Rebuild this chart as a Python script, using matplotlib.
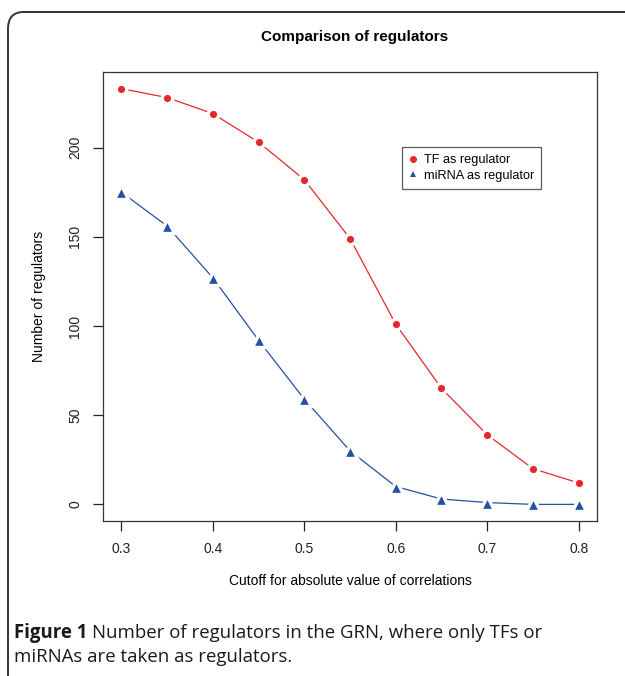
import matplotlib.pyplot as plt
from matplotlib.patches import FancyBboxPatch

cutoff = [0.3, 0.35, 0.4, 0.45, 0.5, 0.55, 0.6, 0.65, 0.7, 0.75, 0.8]
tf_counts = [233, 228, 219, 203, 182, 149, 101, 65, 39, 20, 12]
mirna_counts = [175, 156, 127, 92, 59, 30, 10, 3, 1, 0, 0]
x_ticks = [0.3, 0.4, 0.5, 0.6, 0.7, 0.8]
y_ticks = [0, 50, 100, 150, 200]

plt.rcParams['font.family'] = ['Liberation Sans', 'DejaVu Sans']

W, H = 625, 676
fig = plt.figure(figsize=(W / 100, H / 100), dpi=100)

# rounded frame around the whole figure (runs off right and bottom edge)
frame = FancyBboxPatch((8 / W, -30 / H), 660 / W, (H - 12 + 30) / H,
                       boxstyle="round,pad=0,rounding_size=0.025",
                       transform=fig.transFigure, fill=False,
                       edgecolor='#333333', linewidth=1.4)
fig.patches.append(frame)

ax = fig.add_axes([103 / W, 1 - 521 / H, (597 - 103) / W, (521 - 72) / H])

red = '#e8262d'
blue = '#2451a3'
ax.plot(cutoff, tf_counts, color=red, lw=0.9, marker='o', ms=7.6,
        mfc=red, mec='white', mew=2.4, label='TF as regulator', zorder=3)
ax.plot(cutoff, mirna_counts, color=blue, lw=0.9, marker='^', ms=9.5,
        mfc=blue, mec='white', mew=2.4, label='miRNA as regulator', zorder=3)

lo, hi = min(cutoff), max(cutoff)
ax.set_xlim(lo - 0.04 * (hi - lo), hi + 0.04 * (hi - lo))
ymax = max(tf_counts)
ax.set_ylim(-0.04 * ymax, ymax * 1.04)

ax.set_xticks(x_ticks)
ax.set_xticklabels([str(v) for v in x_ticks])
ax.set_yticks(y_ticks)
ax.set_yticklabels([str(v) for v in y_ticks], rotation=90, va='center')
ax.tick_params(direction='out', length=7, width=0.9, labelsize=10,
               colors='#222222', pad=8)
for s in ax.spines.values():
    s.set_linewidth(0.9)
    s.set_color('#333333')

ax.set_xlabel('Cutoff for absolute value of correlations', fontsize=10, labelpad=13)
ax.set_ylabel('Number of regulators', fontsize=10, labelpad=16)
fig.text(355 / W, 1 - 37 / H, 'Comparison of regulators', ha='center', va='center',
         fontsize=11, fontweight='bold')

leg = ax.legend(loc='upper left', bbox_to_anchor=((402 - 103) / 494, (521 - 147) / 449),
                borderaxespad=0, fontsize=9.2, frameon=True, fancybox=False,
                edgecolor='#333333', handlelength=0.6, handletextpad=0.55,
                borderpad=0.55, labelspacing=0.3)
for h in leg.legend_handles:
    h.set_linestyle('none')
    h.set_markeredgewidth(0)
    h.set_markersize(5)
leg.get_frame().set_linewidth(0.9)

cap_font = ['Open Sans', 'DejaVu Sans']
cap_size = 13.4
t1 = fig.text(14 / W, 1 - 633 / H, 'Figure 1', ha='left', va='center', fontsize=cap_size,
              fontweight='bold', family=cap_font, color='#1a1a1a')
fig.canvas.draw()
bb = t1.get_window_extent()
fig.text((bb.x1 + 5) / W, 1 - 633 / H, 'Number of regulators in the GRN, where only TFs or',
         ha='left', va='center', fontsize=cap_size, family=cap_font, color='#1a1a1a')
fig.text(14 / W, 1 - 657 / H, 'miRNAs are taken as regulators.', ha='left', va='center',
         fontsize=cap_size, family=cap_font, color='#1a1a1a')

fig.savefig('out.png', dpi=100)
